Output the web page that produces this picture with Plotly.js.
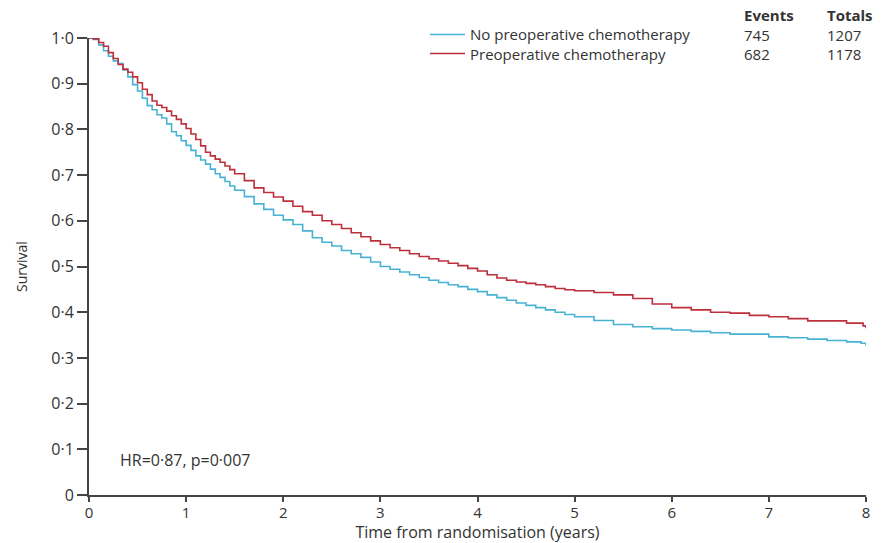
<!DOCTYPE html>
<html>
<head>
<meta charset="utf-8">
<script src="https://cdn.plot.ly/plotly-3.0.1.min.js"></script>
<style>html,body{margin:0;padding:0;background:#fff;}#chart{width:881px;height:543px;}</style>
</head>
<body>
<div id="chart"></div>
<script>
// Kaplan-Meier survival estimates
const timeNoChemo = [0, 0.04, 0.1, 0.15, 0.2, 0.25, 0.3, 0.35, 0.4, 0.45, 0.5, 0.55, 0.6, 0.65, 0.7, 0.75, 0.8, 0.85, 0.9, 0.95, 1.0, 1.05, 1.1, 1.15, 1.2, 1.25, 1.3, 1.35, 1.4, 1.45, 1.5, 1.6, 1.7, 1.8, 1.9, 2.0, 2.1, 2.2, 2.3, 2.4, 2.5, 2.6, 2.7, 2.8, 2.9, 3.0, 3.1, 3.2, 3.3, 3.4, 3.5, 3.6, 3.7, 3.8, 3.9, 4.0, 4.1, 4.2, 4.3, 4.4, 4.5, 4.6, 4.7, 4.8, 4.9, 5.0, 5.2, 5.4, 5.6, 5.8, 6.0, 6.2, 6.4, 6.6, 6.8, 7.0, 7.2, 7.4, 7.6, 7.8, 7.95, 8.0];
const survNoChemo = [1.0, 0.997, 0.985, 0.972, 0.96, 0.95, 0.944, 0.93, 0.915, 0.898, 0.884, 0.868, 0.852, 0.843, 0.832, 0.825, 0.812, 0.795, 0.786, 0.775, 0.765, 0.754, 0.742, 0.733, 0.724, 0.713, 0.703, 0.695, 0.686, 0.676, 0.667, 0.653, 0.637, 0.625, 0.612, 0.602, 0.592, 0.578, 0.563, 0.553, 0.545, 0.535, 0.528, 0.52, 0.51, 0.5, 0.494, 0.488, 0.482, 0.476, 0.47, 0.465, 0.46, 0.456, 0.45, 0.445, 0.438, 0.432, 0.426, 0.42, 0.415, 0.41, 0.405, 0.4, 0.395, 0.39, 0.382, 0.373, 0.368, 0.364, 0.361, 0.358, 0.355, 0.352, 0.352, 0.346, 0.344, 0.341, 0.338, 0.335, 0.332, 0.326];

const timeChemo = [0, 0.05, 0.1, 0.15, 0.2, 0.25, 0.3, 0.35, 0.4, 0.45, 0.5, 0.55, 0.6, 0.65, 0.7, 0.75, 0.8, 0.85, 0.9, 0.95, 1.0, 1.05, 1.1, 1.15, 1.2, 1.25, 1.3, 1.35, 1.4, 1.45, 1.5, 1.6, 1.7, 1.8, 1.9, 2.0, 2.1, 2.2, 2.3, 2.4, 2.5, 2.6, 2.7, 2.8, 2.9, 3.0, 3.1, 3.2, 3.3, 3.4, 3.5, 3.6, 3.7, 3.8, 3.9, 4.0, 4.1, 4.2, 4.3, 4.4, 4.5, 4.6, 4.7, 4.8, 4.9, 5.0, 5.2, 5.4, 5.6, 5.8, 6.0, 6.2, 6.4, 6.6, 6.8, 7.0, 7.2, 7.4, 7.6, 7.8, 7.97, 8.0];
const survChemo = [1.0, 0.998, 0.99, 0.982, 0.968, 0.955, 0.942, 0.932, 0.925, 0.915, 0.902, 0.888, 0.876, 0.862, 0.853, 0.848, 0.84, 0.83, 0.822, 0.812, 0.802, 0.79, 0.778, 0.764, 0.75, 0.742, 0.735, 0.728, 0.72, 0.712, 0.703, 0.688, 0.672, 0.662, 0.652, 0.643, 0.632, 0.62, 0.612, 0.6, 0.592, 0.583, 0.574, 0.565, 0.556, 0.548, 0.541, 0.535, 0.528, 0.522, 0.517, 0.512, 0.507, 0.502, 0.496, 0.49, 0.482, 0.475, 0.47, 0.466, 0.463, 0.46, 0.456, 0.452, 0.449, 0.447, 0.443, 0.438, 0.43, 0.418, 0.41, 0.405, 0.4, 0.398, 0.393, 0.39, 0.386, 0.381, 0.381, 0.376, 0.37, 0.365];

const seriesNames = ["No preoperative chemotherapy", "Preoperative chemotherapy"];
const events = ["745", "682"];
const totals = ["1207", "1178"];

const yTickVals = [0, 0.1, 0.2, 0.3, 0.4, 0.5, 0.6, 0.7, 0.8, 0.9, 1.0];
const yTickText = ["0", "0·1", "0·2", "0·3", "0·4", "0·5", "0·6", "0·7", "0·8", "0·9", "1·0"];
const xTickVals = [0, 1, 2, 3, 4, 5, 6, 7, 8];
const hrText = "HR=0·87, p=0·007";

const FONT = "'Open Sans', sans-serif";
const TXT = "#333333";
const colors = ["#48b2d2", "#be2f3c"];

const traces = [
  {x: timeNoChemo, y: survNoChemo, name: seriesNames[0], type: "scatter", mode: "lines",
   line: {color: colors[0], width: 1.6, shape: "hv"}},
  {x: timeChemo, y: survChemo, name: seriesNames[1], type: "scatter", mode: "lines",
   line: {color: colors[1], width: 1.6, shape: "hv"}}
];

const px = (p) => (p - 89) / 777;
const py = (p) => (495 - p) / 457;

const annotations = [
  {xref: "x", yref: "y", x: 0.3, y: 0.077, text: hrText, showarrow: false, xanchor: "left", yanchor: "middle",
   font: {family: FONT, size: 16, color: TXT}},
  // legend labels (one text block, two lines)
  {xref: "paper", yref: "paper", x: px(468), y: py(44), text: seriesNames.join("<br>"), showarrow: false,
   xanchor: "left", yanchor: "middle", align: "left", font: {family: FONT, size: 15, color: TXT}},
  // Events column
  {xref: "paper", yref: "paper", x: px(742), y: py(34.5), text: "<b>Events</b><br>" + events.join("<br>"), showarrow: false,
   xanchor: "left", yanchor: "middle", align: "left", font: {family: FONT, size: 15, color: TXT}},
  // Totals column
  {xref: "paper", yref: "paper", x: px(825), y: py(34.5), text: "<b>Totals</b><br>" + totals.join("<br>"), showarrow: false,
   xanchor: "left", yanchor: "middle", align: "left", font: {family: FONT, size: 15, color: TXT}}
];
const shapes = [];
[34.5, 53.5].forEach((yy, i) => {
  shapes.push({type: "line", xref: "paper", yref: "paper", x0: px(430), x1: px(465), y0: py(yy), y1: py(yy),
    line: {color: colors[i], width: 1.6}});
});

const layout = {
  width: 881, height: 543,
  margin: {l: 89, r: 15, t: 38, b: 48},
  paper_bgcolor: "#ffffff", plot_bgcolor: "#ffffff",
  font: {family: FONT, color: TXT, size: 14},
  showlegend: false,
  xaxis: {
    range: [0, 8], tickvals: xTickVals, ticktext: xTickVals.map(String),
    showgrid: false, zeroline: false, showline: true, linecolor: "#444", linewidth: 2,
    ticks: "outside", ticklen: 5, tickwidth: 2, tickcolor: "#444",
    ticklabelstandoff: -2,
    tickfont: {family: FONT, size: 15, color: TXT},
    title: {text: "Time from randomisation (years)", font: {family: FONT, size: 16, color: TXT}, standoff: 24}
  },
  yaxis: {
    range: [0, 1.0], tickvals: yTickVals, ticktext: yTickText,
    showgrid: false, zeroline: false, showline: true, linecolor: "#444", linewidth: 2,
    ticks: "outside", ticklen: 10, tickwidth: 2, tickcolor: "#444",
    tickfont: {family: FONT, size: 16, color: TXT},
    title: {text: "Survival", font: {family: FONT, size: 14, color: TXT}, standoff: 20}
  },
  shapes: shapes,
  annotations: annotations
};

Plotly.newPlot("chart", traces, layout, {displayModeBar: false, staticPlot: true});
</script>
</body>
</html>
